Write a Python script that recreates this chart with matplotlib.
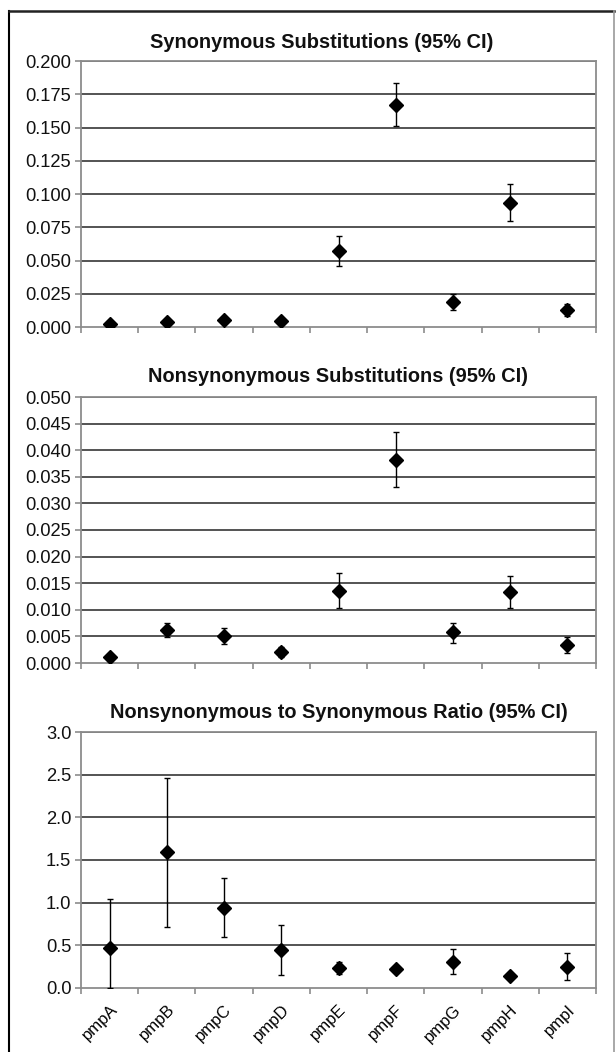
import matplotlib
matplotlib.use("Agg")
import matplotlib.pyplot as plt
from matplotlib.lines import Line2D
import numpy as np

plt.rcParams['font.family'] = ['Liberation Sans', 'DejaVu Sans']

genes = ["pmpA", "pmpB", "pmpC", "pmpD", "pmpE", "pmpF", "pmpG", "pmpH", "pmpI"]

syn_val = [0.0020, 0.0038, 0.0053, 0.0045, 0.0571, 0.1668, 0.0186, 0.0936, 0.0128]
syn_lo = [0.0012, 0.0028, 0.0042, 0.0035, 0.0460, 0.1510, 0.0126, 0.0797, 0.0080]
syn_hi = [0.0028, 0.0048, 0.0064, 0.0055, 0.0682, 0.1831, 0.0247, 0.1077, 0.0176]

non_val = [0.0011, 0.0062, 0.0050, 0.0021, 0.0136, 0.0382, 0.0058, 0.0133, 0.0033]
non_lo = [0.0004, 0.0048, 0.0036, 0.0012, 0.0103, 0.0330, 0.0038, 0.0103, 0.0018]
non_hi = [0.0017, 0.0076, 0.0065, 0.0030, 0.0169, 0.0435, 0.0076, 0.0164, 0.0048]

rat_val = [0.467, 1.598, 0.938, 0.448, 0.236, 0.224, 0.302, 0.137, 0.247]
rat_lo = [0.000, 0.711, 0.593, 0.157, 0.161, 0.190, 0.161, 0.110, 0.098]
rat_hi = [1.044, 2.458, 1.292, 0.738, 0.302, 0.260, 0.455, 0.165, 0.408]

titles = ["Synonymous Substitutions (95% CI)",
          "Nonsynonymous Substitutions (95% CI)",
          "Nonsynonymous to Synonymous Ratio (95% CI)"]

W, H = 616, 1052
fig = plt.figure(figsize=(W / 100, H / 100), dpi=100)

def rect(left, top, right, bottom):
    return [left / W, 1 - bottom / H, (right - left) / W, (bottom - top) / H]

panels = [
    dict(box=rect(81, 61, 596, 327), val=syn_val, lo=syn_lo, hi=syn_hi,
         ymax=0.200, step=0.025, fmt="{:.3f}", title=titles[0], tx=0.468, ty=42),
    dict(box=rect(81, 397, 596, 663), val=non_val, lo=non_lo, hi=non_hi,
         ymax=0.050, step=0.005, fmt="{:.3f}", title=titles[1], tx=0.5, ty=376),
    dict(box=rect(81, 732, 596, 988), val=rat_val, lo=rat_lo, hi=rat_hi,
         ymax=3.0, step=0.5, fmt="{:.1f}", title=titles[2], tx=0.5, ty=713),
]

x = np.arange(len(genes))
for i, p in enumerate(panels):
    ax = fig.add_axes(p['box'])
    v = np.array(p['val']); lo = np.array(p['lo']); hi = np.array(p['hi'])
    ax.errorbar(x, v, yerr=[v - lo, hi - v], fmt='none', ecolor='black',
                elinewidth=1.0, capsize=2.5, capthick=1.0, zorder=3)
    ax.plot(x, v, linestyle='none', marker='D', markersize=7,
            color='black', zorder=4)
    ax.set_xlim(-0.5, len(genes) - 0.5)
    ax.set_ylim(0, p['ymax'])
    ticks = np.arange(0, p['ymax'] + p['step'] / 2, p['step'])
    ax.set_yticks(ticks)
    ax.set_yticklabels([p['fmt'].format(t) for t in ticks], fontsize=13.2)
    for t in ticks[1:]:
        ax.axhline(t, color='#454545', lw=1.3, zorder=1)
    ax.set_xticks(np.arange(len(genes) + 1) - 0.5)
    ax.set_xticklabels([])
    if i == 2:
        ax.set_xticks(x, minor=True)
        ax.set_xticklabels(genes, minor=True, rotation=45, ha='right',
                           va='top', rotation_mode='anchor', fontsize=12)
        ax.tick_params(axis='x', which='minor', length=0, pad=10)
    for s in ax.spines.values():
        s.set_color('#8c8c8c')
        s.set_linewidth(1.3)
    ax.tick_params(axis='both', which='major', direction='out', length=4,
                   width=1.2, color='#8c8c8c', labelcolor='#111111')
    ax.tick_params(axis='y', pad=3)
    fig.text((81 + p['tx'] * 515) / W, 1 - p['ty'] / H, p['title'],
             ha='center', va='center', fontsize=14.4, fontweight='bold',
             color='#111111')

# outer frame
fig.add_artist(Line2D([9 / W, 9 / W], [0, 1 - 11 / H], color='black', lw=1.5))
fig.add_artist(Line2D([9 / W, 614 / W], [1 - 11 / H, 1 - 11 / H], color='#222222', lw=1.8))
fig.add_artist(Line2D([614 / W, 614 / W], [0, 1 - 11 / H], color='#9a9a9a', lw=1.2))

fig.savefig("out.png", dpi=100, facecolor='white')
